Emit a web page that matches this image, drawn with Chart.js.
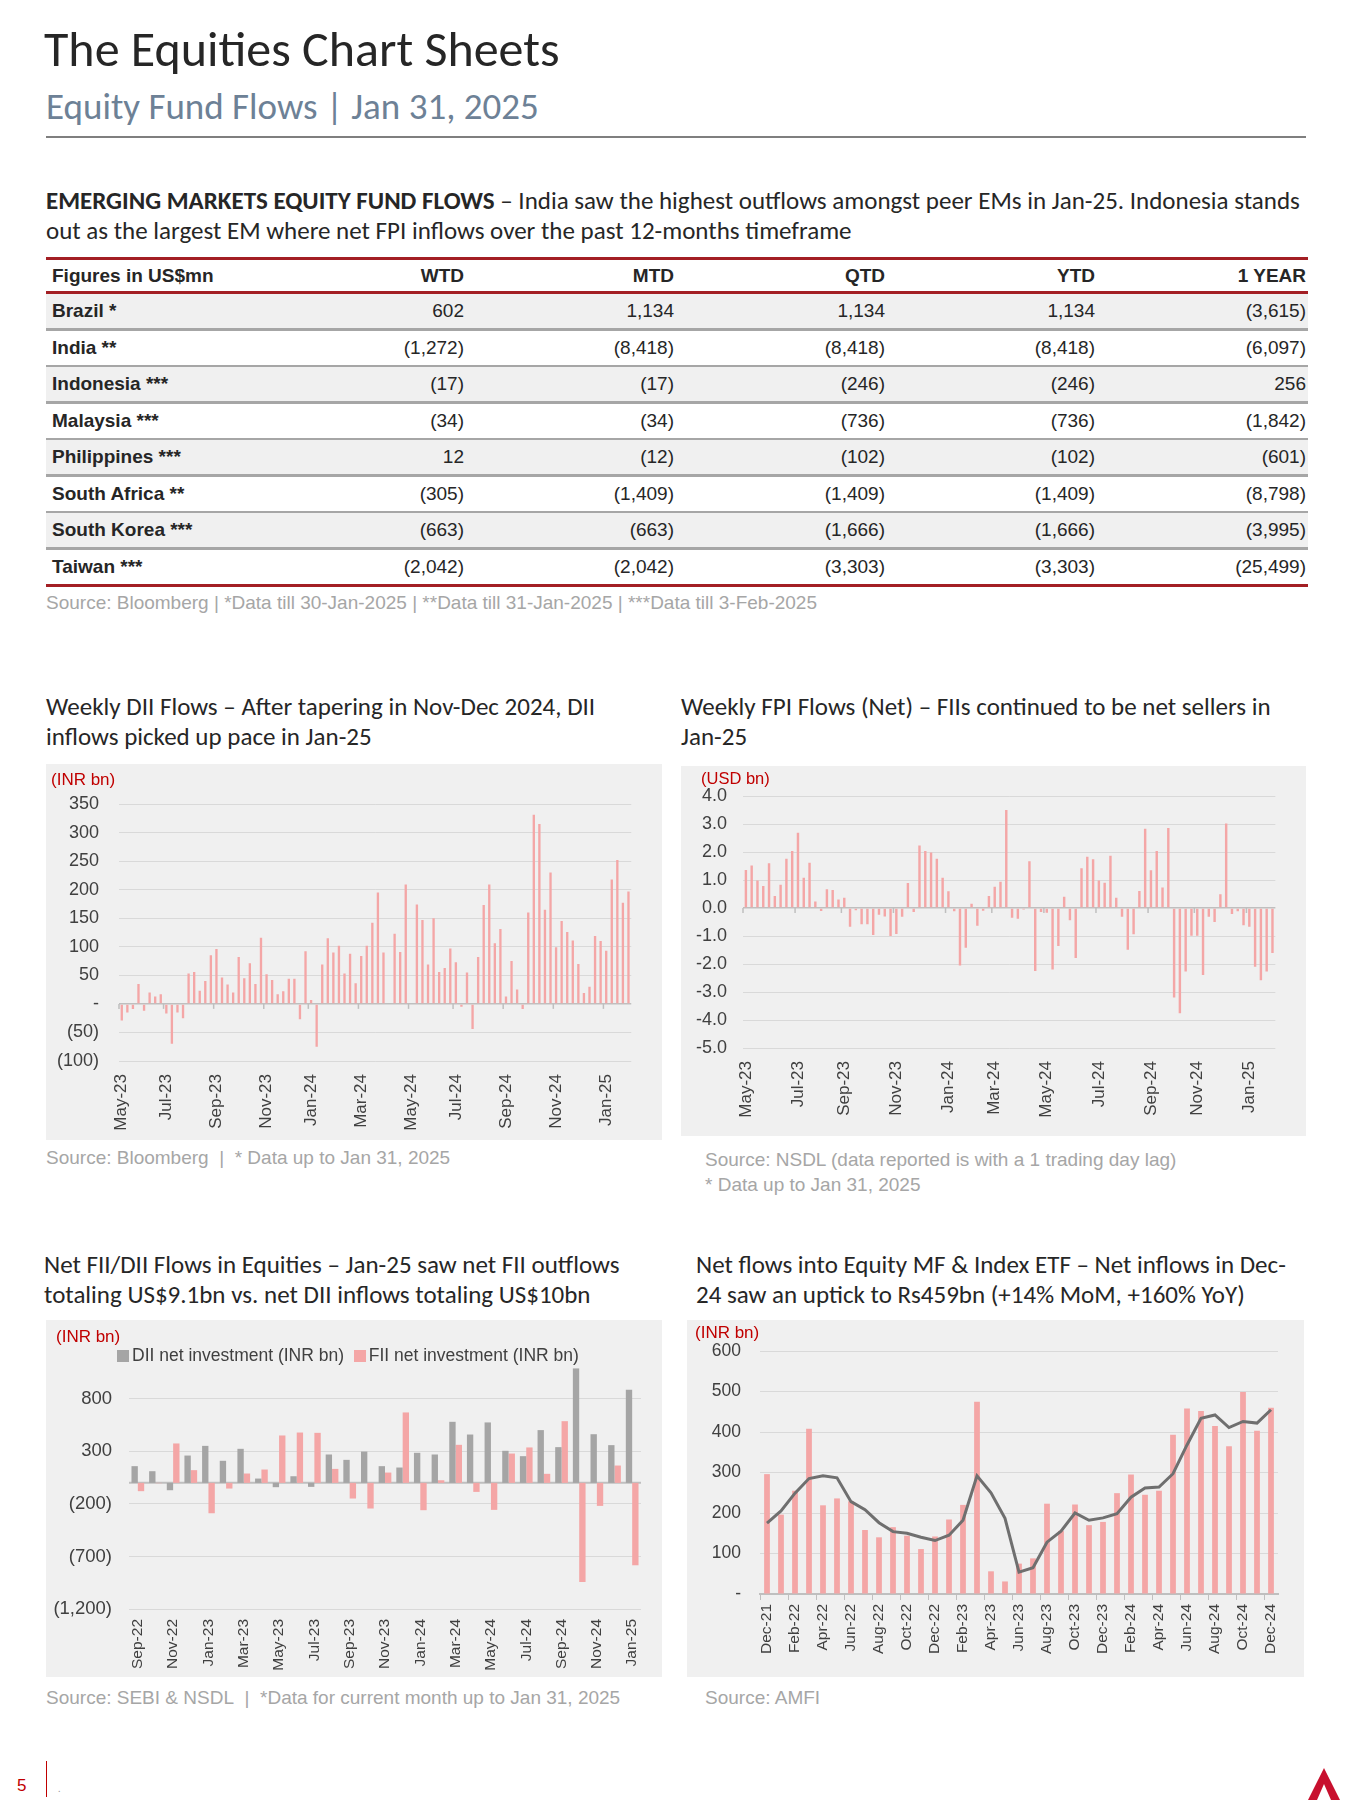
<!DOCTYPE html>
<html>
<head>
<meta charset="utf-8">
<script src="https://cdn.jsdelivr.net/npm/chart.js@4.4.1/dist/chart.umd.min.js"></script>
<style>
body{margin:0;width:1350px;height:1800px;background:#fff;position:relative;overflow:hidden;font-family:Carlito,Lato,sans-serif;color:#262626}
.abs{position:absolute;white-space:nowrap}
.head{font-size:25px;line-height:30px;color:#262626}
.src{font-family:"Liberation Sans",Arial,sans-serif;font-size:19px;line-height:22px;color:#a6a6a6}
.box{position:absolute;background:#f0f0f0}
.unit{position:absolute;font-family:"Liberation Sans",Arial,sans-serif;font-size:17px;color:#c00000}
.tbl{font-family:"Liberation Sans",Arial,sans-serif;font-size:19px;color:#262626}
.leg{font-family:"Liberation Sans",Arial,sans-serif;font-size:17.5px;color:#404040}
.sw{display:inline-block;width:12px;height:12px;margin-right:3px;vertical-align:-1px}
</style>
</head>
<body>
<div class="abs" style="left:44px;top:20px;font-size:50px;line-height:58px;color:#262626">The Equities Chart Sheets</div>
<div class="abs" style="left:46px;top:85px;font-size:37px;line-height:44px;color:#6d8196">Equity Fund Flows | Jan 31, 2025</div>
<div class="abs" style="left:46px;top:136px;width:1260px;height:2px;background:#7f7f7f"></div>

<div class="abs" style="left:46px;top:186px;font-size:25px;line-height:30px"><b>EMERGING MARKETS EQUITY FUND FLOWS</b> – India saw the highest outflows amongst peer EMs in Jan-25. Indonesia stands<br>out as the largest EM where net FPI inflows over the past 12-months timeframe</div>

<div id="table" class="tbl"></div>
<div class="abs src" style="left:46px;top:592px">Source: Bloomberg | *Data till 30-Jan-2025 | **Data till 31-Jan-2025 | ***Data till 3-Feb-2025</div>

<div class="abs head" style="left:46px;top:692px">Weekly DII Flows – After tapering in Nov-Dec 2024, DII<br>inflows picked up pace in Jan-25</div>
<div class="abs head" style="left:681px;top:692px">Weekly FPI Flows (Net) – FIIs continued to be net sellers in<br>Jan-25</div>

<div class="box" style="left:46px;top:764px;width:616px;height:376px"><canvas id="c1" width="616" height="376"></canvas><div class="unit" style="left:5px;top:6px">(INR bn)</div></div>
<div class="box" style="left:681px;top:766px;width:625px;height:370px"><canvas id="c2" width="625" height="370"></canvas><div class="unit" style="left:20px;top:3px;font-size:16.5px">(USD bn)</div></div>

<div class="abs src" style="left:46px;top:1147px">Source: Bloomberg&nbsp; |&nbsp; * Data up to Jan 31, 2025</div>
<div class="abs src" style="left:705px;top:1147px;line-height:25px">Source: NSDL (data reported is with a 1 trading day lag)<br>* Data up to Jan 31, 2025</div>

<div class="abs head" style="left:44px;top:1250px">Net FII/DII Flows in Equities – Jan-25 saw net FII outflows<br>totaling US$9.1bn vs. net DII inflows totaling US$10bn</div>
<div class="abs head" style="left:696px;top:1250px">Net flows into Equity MF &amp; Index ETF – Net inflows in Dec-<br>24 saw an uptick to Rs459bn (+14% MoM, +160% YoY)</div>

<div class="box" style="left:46px;top:1320px;width:616px;height:357px"><canvas id="c3" width="616" height="357"></canvas><div class="unit" style="left:10px;top:7px">(INR bn)</div>
<div class="abs leg" style="left:71px;top:25px"><span class="sw" style="background:#a5a5a5"></span>DII net investment (INR bn) &nbsp;<span class="sw" style="background:#f4a6a6"></span>FII net investment (INR bn)</div></div>
<div class="box" style="left:687px;top:1320px;width:617px;height:357px"><canvas id="c4" width="617" height="357"></canvas><div class="unit" style="left:8px;top:3px">(INR bn)</div></div>

<div class="abs src" style="left:46px;top:1687px">Source: SEBI &amp; NSDL&nbsp; |&nbsp; *Data for current month up to Jan 31, 2025</div>
<div class="abs src" style="left:705px;top:1687px">Source: AMFI</div>

<div class="abs" style="left:17px;top:1776px;font-family:'Liberation Sans',Arial;font-size:17px;color:#c00000">5</div>
<div class="abs" style="left:46px;top:1761px;width:1px;height:36px;background:#c00000"></div>
<div class="abs" style="left:58px;top:1782px;font-size:10px;color:#999">.</div>
<svg class="abs" style="left:1306px;top:1766px" width="36" height="34"><polygon points="18,2 34,34 25,34 18,18 11,34 2,34" fill="#c8102e"/></svg>

<script>
// ---- table data ----
const tableCols = ["Figures in US$mn", "WTD", "MTD", "QTD", "YTD", "1 YEAR"];
const tableRows = [
  ["Brazil *", "602", "1,134", "1,134", "1,134", "(3,615)"],
  ["India **", "(1,272)", "(8,418)", "(8,418)", "(8,418)", "(6,097)"],
  ["Indonesia ***", "(17)", "(17)", "(246)", "(246)", "256"],
  ["Malaysia ***", "(34)", "(34)", "(736)", "(736)", "(1,842)"],
  ["Philippines ***", "12", "(12)", "(102)", "(102)", "(601)"],
  ["South Africa **", "(305)", "(1,409)", "(1,409)", "(1,409)", "(8,798)"],
  ["South Korea ***", "(663)", "(663)", "(1,666)", "(1,666)", "(3,995)"],
  ["Taiwan ***", "(2,042)", "(2,042)", "(3,303)", "(3,303)", "(25,499)"]
];

// ---- chart 1: weekly DII flows (INR bn), May-23 .. Jan-25 ----
const diiWeekly = [-29,-15,-9,35,-12,20,13,17,-17,-70,
  -15,-25,53,56,23,40,85,96,46,34,
  20,82,45,71,35,116,52,42,17,22,
  44,44,-27,92,7,-75,69,115,90,102,
  53,88,36,84,102,142,195,90,0,123,
  91,209,0,174,147,69,150,56,63,97,
  73,-5,55,-44,82,173,209,106,131,13,
  75,25,-9,160,331,315,165,230,99,145,
  126,111,70,19,30,119,110,93,218,252,
  177,197];
const diiTickLabels = ["May-23","Jul-23","Sep-23","Nov-23","Jan-24","Mar-24","May-24","Jul-24","Sep-24","Nov-24","Jan-25"];
const diiTickIdx = [0,8,17,26,34,43,52,60,69,78,87];

// ---- chart 2: weekly FPI flows (USD bn) ----
const fpiWeekly = [1.36,1.52,0.98,0.79,1.6,0.43,0.83,1.76,2.04,2.69,
  1.08,1.62,0.23,-0.11,0.67,0.64,0.3,0.37,-0.67,-0.08,
  -0.58,-0.58,-0.96,-0.24,-0.3,-1.0,-0.93,-0.31,0.89,-0.14,
  2.23,2.04,1.98,1.76,1.08,0.6,-0.12,-2.05,-1.42,0.15,
  -0.63,-0.1,0.43,0.76,0.94,3.5,-0.35,-0.38,-0.05,1.67,
  -2.25,-0.14,-0.17,-2.2,-1.36,0.4,-0.44,-1.79,1.42,1.83,
  1.74,0.98,0.9,1.87,0.37,-0.31,-1.49,-0.94,0.61,2.83,
  1.35,2.04,0.73,2.86,-3.2,-3.76,-2.27,-0.99,-0.99,-2.39,
  -0.31,-0.5,0.49,3.02,-0.21,-0.12,-0.62,-0.67,-2.1,-2.58,
  -2.27,-1.61];
const fpiTickLabels = diiTickLabels;
const fpiTickIdx = [0,9,17,26,35,43,52,61,70,78,87];

// ---- chart 3: monthly FII / DII (INR bn), Sep-22 .. Jan-25 ----
const flowMonths = ["Sep-22","Oct-22","Nov-22","Dec-22","Jan-23","Feb-23","Mar-23","Apr-23","May-23","Jun-23","Jul-23","Aug-23",
  "Sep-23","Oct-23","Nov-23","Dec-23","Jan-24","Feb-24","Mar-24","Apr-24","May-24","Jun-24","Jul-24","Aug-24",
  "Sep-24","Oct-24","Nov-24","Dec-24","Jan-25"];
const diiMonthly = [159,111,-70,260,352,210,324,41,-41,63,-38,270,219,298,159,146,286,270,581,460,575,305,254,502,340,1089,463,359,886];
const fiiMonthly = [-79,-3,375,121,-289,-54,89,127,451,479,476,133,-149,-244,98,670,-260,25,362,-86,-257,279,337,86,587,-943,-219,165,-784];
const flowYTicks = [-1200,-700,-200,300,800];

// ---- chart 4: net flows into equity MF & index ETF (INR bn), Dec-21 .. Dec-24 ----
const mfMonths = ["Dec-21","Jan-22","Feb-22","Mar-22","Apr-22","May-22","Jun-22","Jul-22","Aug-22","Sep-22","Oct-22","Nov-22",
  "Dec-22","Jan-23","Feb-23","Mar-23","Apr-23","May-23","Jun-23","Jul-23","Aug-23","Sep-23","Oct-23","Nov-23",
  "Dec-23","Jan-24","Feb-24","Mar-24","Apr-24","May-24","Jun-24","Jul-24","Aug-24","Sep-24","Oct-24","Nov-24","Dec-24"];
const mfFlows = [296,196,255,408,219,236,229,158,140,165,144,111,142,184,220,475,56,31,75,88,223,156,221,170,178,249,295,245,255,393,458,452,415,365,499,403,460];
const mfTrend = [175,205,249,285,292,287,228,208,176,154,150,140,132,145,182,292,250,187,54,65,128,155,200,182,188,198,239,262,264,297,368,434,442,411,426,422,455];

// ---- build table ----
(function () {
  const t = document.getElementById('table');
  const colRight = [0, 464, 674, 885, 1095, 1306];
  const left = 46, width = 1262;
  function line(y, h, c) {
    const d = document.createElement('div');
    d.className = 'abs';
    d.style.cssText = `left:${left}px;top:${y}px;width:${width}px;height:${h}px;background:${c}`;
    t.appendChild(d);
  }
  function cells(vals, top, h, bold) {
    vals.forEach((v, i) => {
      const s = document.createElement('div');
      s.className = 'abs';
      s.textContent = v;
      s.style.top = top + 'px';
      s.style.height = h + 'px';
      s.style.lineHeight = h + 'px';
      if (i === 0) { s.style.left = (left + 6) + 'px'; s.style.fontWeight = 'bold'; }
      else { s.style.right = (1350 - colRight[i]) + 'px'; s.style.textAlign = 'right'; if (bold) s.style.fontWeight = 'bold'; }
      t.appendChild(s);
    });
  }
  line(257, 3, '#a31f24');
  cells(tableCols, 260, 31, true);
  line(291, 3, '#a31f24');
  let y = 294;
  tableRows.forEach((r, k) => {
    const h = 34;
    if (k % 2 === 0) {
      const b = document.createElement('div');
      b.className = 'abs';
      b.style.cssText = `left:${left}px;top:${y}px;width:${width}px;height:${h}px;background:#f0f0f0`;
      t.appendChild(b);
    }
    cells(r, y, h, false);
    y += h;
    if (k < tableRows.length - 1) line(y, 2.5, '#a6a6a6'); else line(y, 3, '#a31f24');
    y += 2.5;
  });
})();

// ---- chart helpers ----
const PINK = '#f4a6a6';
const GRAY = '#a5a5a5';
const FAMILY = "'Liberation Sans', Arial, sans-serif";
const TICK_COLOR = '#404040';
const paren = v => v === 0 ? '-' : v < 0 ? '(' + Math.abs(v).toLocaleString('en-US') + ')' : v.toLocaleString('en-US');

// zero line + small month ticks on it
const zeroAxis = {
  id: 'zeroAxis',
  beforeDatasetsDraw(chart, args, opts) {
    const x = chart.scales.x, y = chart.scales.y, ctx = chart.ctx;
    const y0 = y.getPixelForValue(0);
    ctx.save();
    ctx.strokeStyle = opts.color || '#bfbfbf';
    ctx.lineWidth = opts.width || 1.5;
    if (opts.line) {
      ctx.beginPath(); ctx.moveTo(chart.chartArea.left, y0); ctx.lineTo(chart.chartArea.right, y0); ctx.stroke();
    }
    if (opts.ticks) {
      const step = x.getPixelForValue(1) - x.getPixelForValue(0);
      opts.ticks.forEach(i => {
        const px = x.getPixelForValue(i) - step / 2;
        ctx.beginPath(); ctx.moveTo(px, y0); ctx.lineTo(px, y0 + 5); ctx.stroke();
      });
    }
    ctx.restore();
  }
};

function weeklyChart(id, values, tickIdx, tickLabels, yMin, yMax, step, fmt, pad, yWidth, yPad, xHeight) {
  return new Chart(document.getElementById(id), {
    type: 'bar',
    data: {
      labels: values.map((_, i) => i),
      datasets: [{ data: values, backgroundColor: PINK, barPercentage: 0.42, categoryPercentage: 1 }]
    },
    options: {
      responsive: false, animation: false,
      layout: { padding: pad },
      plugins: { legend: { display: false }, tooltip: { enabled: false }, zeroAxis: { ticks: tickIdx } },
      scales: {
        x: {
          grid: { display: false, drawTicks: false }, border: { display: false },
          ticks: {
            autoSkip: false, maxRotation: 90, minRotation: 90, padding: 13, font: { family: FAMILY, size: 17 }, color: TICK_COLOR,
            callback: (v, i) => { const k = tickIdx.indexOf(i); return k >= 0 ? tickLabels[k] : ''; }
          },
          afterFit: s => { s.height = xHeight; }
        },
        y: {
          min: yMin, max: yMax,
          ticks: { stepSize: step, callback: fmt, font: { family: FAMILY, size: 18 }, color: TICK_COLOR, padding: yPad },
          grid: { color: c => c.tick.value === 0 ? '#bfbfbf' : '#d9d9d9', lineWidth: c => c.tick.value === 0 ? 1.5 : 1, drawTicks: false },
          border: { display: false },
          afterFit: s => { s.width = yWidth; }
        }
      }
    },
    plugins: [zeroAxis]
  });
}

weeklyChart('c1', diiWeekly, diiTickIdx, diiTickLabels, -100, 350, 50, paren,
  { top: 40, right: 24, left: 0, bottom: 0 }, 73, 20, 79);
weeklyChart('c2', fpiWeekly, fpiTickIdx, fpiTickLabels, -5, 4, 1, v => v.toFixed(1),
  { top: 30, right: 25, left: 0, bottom: 0 }, 62, 16, 88);

// chart 3
new Chart(document.getElementById('c3'), {
  type: 'bar',
  data: {
    labels: flowMonths,
    datasets: [
      { label: 'DII net investment (INR bn)', data: diiMonthly, backgroundColor: GRAY, barPercentage: 1, categoryPercentage: 0.72 },
      { label: 'FII net investment (INR bn)', data: fiiMonthly, backgroundColor: PINK, barPercentage: 1, categoryPercentage: 0.72 }
    ]
  },
  options: {
    responsive: false, animation: false,
    layout: { padding: { top: 42, right: 21, left: 0, bottom: 0 } },
    plugins: { legend: { display: false }, tooltip: { enabled: false }, zeroAxis: { line: true, color: '#bfbfbf', width: 2 } },
    scales: {
      x: {
        grid: { display: false, drawTicks: false }, border: { display: false },
        ticks: { autoSkip: false, maxRotation: 90, minRotation: 90, padding: 10, font: { family: FAMILY, size: 15.5 }, color: TICK_COLOR,
          callback: (v, i) => i % 2 === 0 ? flowMonths[i] : '' },
        afterFit: s => { s.height = 68; }
      },
      y: {
        min: -1200, max: 1150,
        afterBuildTicks: s => { s.ticks = flowYTicks.map(v => ({ value: v })); },
        ticks: { callback: paren, font: { family: FAMILY, size: 18.5 }, color: TICK_COLOR, padding: 17 },
        grid: { color: '#d9d9d9', drawTicks: false }, border: { display: false },
        afterFit: s => { s.width = 83; }
      }
    }
  },
  plugins: [zeroAxis]
});

// chart 4
new Chart(document.getElementById('c4'), {
  data: {
    labels: mfMonths,
    datasets: [
      { type: 'line', data: mfTrend, borderColor: '#6f6f6f', borderWidth: 3, pointRadius: 0, tension: 0, order: 0 },
      { type: 'bar', data: mfFlows, backgroundColor: PINK, barPercentage: 0.41, categoryPercentage: 1, order: 1 }
    ]
  },
  options: {
    responsive: false, animation: false,
    layout: { padding: { top: 31, right: 26, left: 0, bottom: 0 } },
    plugins: { legend: { display: false }, tooltip: { enabled: false } },
    scales: {
      x: {
        offset: true,
        grid: { offset: true, drawOnChartArea: false, drawTicks: true, tickLength: 6, color: c => c.index % 2 === 0 ? '#bfbfbf' : 'rgba(0,0,0,0)' },
        border: { display: true, color: '#bfbfbf', width: 2 },
        ticks: { autoSkip: false, maxRotation: 90, minRotation: 90, padding: 4, font: { family: FAMILY, size: 15.5 }, color: TICK_COLOR,
          callback: (v, i) => i % 2 === 0 ? mfMonths[i] : '' },
        afterFit: s => { s.height = 83; }
      },
      y: {
        min: 0, max: 600,
        ticks: { stepSize: 100, callback: v => v === 0 ? '-' : v, font: { family: FAMILY, size: 17.5 }, color: TICK_COLOR, padding: 19 },
        grid: { color: '#d9d9d9', drawTicks: false }, border: { display: false },
        afterFit: s => { s.width = 73; }
      }
    }
  }
});
</script>
</body>
</html>
